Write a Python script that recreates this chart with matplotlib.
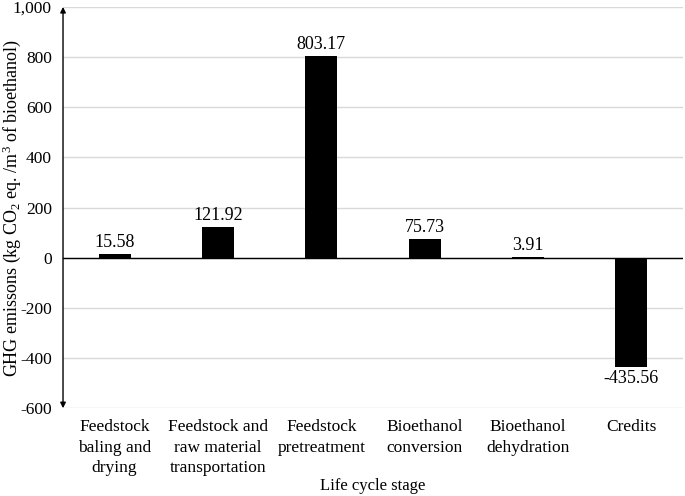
import numpy as np
import matplotlib.pyplot as plt
from matplotlib.ticker import FuncFormatter

stages = ["Feedstock\nbaling and\ndrying", "Feedstock and\nraw material\ntransportation",
          "Feedstock\npretreatment", "Bioethanol\nconversion", "Bioethanol\ndehydration", "Credits"]
emissions = [15.58, 121.92, 803.17, 75.73, 3.91, -435.56]
labels = ["15.58", "121.92", "803.17", "75.73", "3.91", "-435.56"]

plt.rcParams['font.family'] = ['Liberation Serif', 'DejaVu Serif']
plt.rcParams['mathtext.default'] = 'regular'
plt.rcParams['font.size'] = 12.5

fig = plt.figure(figsize=(6.85, 4.96), dpi=100)
ax = fig.add_axes([0.092, 0.177, 0.905, 0.809])

x = np.arange(len(stages))
ax.bar(x, emissions, width=0.31, color='black', zorder=3)
for xi, v, t in zip(x, emissions, labels):
    if v >= 0:
        ax.text(xi, v + 12, t, ha='center', va='bottom', fontsize=13)
    else:
        ax.text(xi, v - 14, t, ha='center', va='top', fontsize=13)

ax.set_xlim(-0.5, 5.5)
ax.set_ylim(-600, 1000)
ax.set_yticks(np.arange(-600, 1001, 200))
ax.yaxis.set_major_formatter(FuncFormatter(lambda v, p: f"{int(v):,}"))
ax.grid(axis='y', color='#d9d9d9', lw=1, zorder=0)
ax.axhline(0, color='black', lw=1, zorder=4)
ax.set_xticks(x)
ax.set_xticklabels(stages, linespacing=1.35)
ax.tick_params(axis='y', length=0, pad=8)
ax.tick_params(axis='x', length=0, pad=8)
for s in ax.spines.values():
    s.set_visible(False)
ax.annotate('', xy=(-0.5, 1000), xytext=(-0.5, -600),
            arrowprops=dict(arrowstyle='<|-|>', color='black', lw=1, mutation_scale=8,
                            shrinkA=0, shrinkB=0), annotation_clip=False)
ax.set_ylabel("GHG emissons (kg CO$_2$ eq. /m$^3$ of bioethanol)", fontsize=13, va='center')
ax.yaxis.set_label_coords(-0.083, 0.5)
ax.set_xlabel("Life cycle stage", fontsize=12, va='center')
ax.xaxis.set_label_coords(0.5, -0.195)

fig.savefig("out.png", dpi=100)
